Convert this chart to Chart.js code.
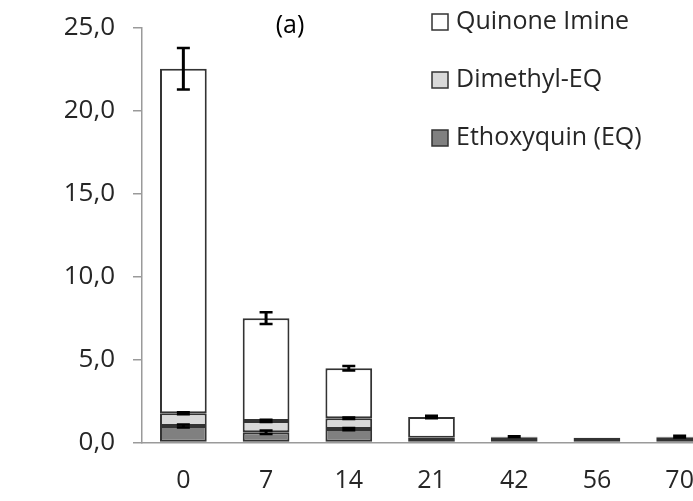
<!DOCTYPE html>
<html>
<head>
<meta charset="utf-8">
<script src="https://cdn.jsdelivr.net/npm/chart.js@4/dist/chart.umd.min.js"></script>
<style>
  html, body { margin: 0; padding: 0; background: #fff; overflow: hidden; }
  #wrap { width: 740px; height: 501px; }
</style>
</head>
<body>
<div id="wrap"><canvas id="c" width="740" height="501"></canvas></div>
<script>
// ---- data ----
const categories = ['0', '7', '14', '21', '42', '56', '70'];
const seriesNames = ['Ethoxyquin (EQ)', 'Dimethyl-EQ', 'Quinone Imine'];
const ethoxyquin = [1.00, 0.62, 0.81, null, null, null, null];
const dimethylEQ = [0.76, 0.68, 0.65, 0.29, 0.29, 0.29, 0.29];
const quinoneImine = [20.78, 6.20, 3.02, 1.25, 0.06, null, 0.06];
const ethoxyquinErr = [0.09, 0.10, 0.07, null, null, null, null];
const dimethylErr = [0.06, 0.07, 0.05, null, null, null, null];
const quinoneErr = [1.25, 0.36, 0.13, 0.08, 0.02, null, 0.05];
const yTicks = [0, 5, 10, 15, 20, 25];
const panelLabel = '(a)';

const FONT = '"Open Sans", "DejaVu Sans", sans-serif';
const TEXT = '#262626';
const AXIS = '#9a9a9a';
const EDGE = '#333333';
const fills = ['#808080', '#d9d9d9', '#ffffff'];
const errs = [ethoxyquinErr, dimethylErr, quinoneErr];

const errorBars = {
  id: 'errorBars',
  afterDatasetsDraw(chart) {
    const ctx = chart.ctx;
    const y = chart.scales.y;
    ctx.save();
    ctx.strokeStyle = '#000';
    ctx.lineCap = 'butt';
    chart.data.datasets.forEach((ds, d) => {
      const meta = chart.getDatasetMeta(d);
      const e = errs[d];
      ds.data.forEach((v, i) => {
        if (e[i] == null || v == null) return;
        let top = 0;
        for (let k = 0; k <= d; k++) top += (chart.data.datasets[k].data[i] || 0);
        const x = meta.data[i].x;
        const y1 = y.getPixelForValue(top + e[i]);
        const y2 = y.getPixelForValue(top - e[i]);
        ctx.lineWidth = 3;
        ctx.beginPath(); ctx.moveTo(x, y1); ctx.lineTo(x, y2); ctx.stroke();
        ctx.lineWidth = 2.5;
        ctx.beginPath();
        ctx.moveTo(x - 6.5, y1); ctx.lineTo(x + 6.5, y1);
        ctx.moveTo(x - 6.5, y2); ctx.lineTo(x + 6.5, y2);
        ctx.stroke();
      });
    });
    ctx.restore();
  }
};

const customLegend = {
  id: 'customLegend',
  afterDraw(chart) {
    const ctx = chart.ctx;
    ctx.save();
    const ds = chart.data.datasets.slice().reverse();
    ds.forEach((d, j) => {
      const cy = 22 + j * 58;
      ctx.fillStyle = d.backgroundColor;
      ctx.fillRect(432, cy - 8, 16, 16);
      ctx.strokeStyle = EDGE;
      ctx.lineWidth = 1.5;
      ctx.strokeRect(432, cy - 8, 16, 16);
      ctx.fillStyle = TEXT;
      ctx.font = '25px ' + FONT;
      ctx.textBaseline = 'middle';
      ctx.textAlign = 'left';
      ctx.fillText(d.label, 456, cy);
    });
    ctx.font = '25px ' + FONT;
    ctx.textAlign = 'center';
    ctx.textBaseline = 'middle';
    ctx.fillStyle = '#000';
    ctx.fillText(panelLabel, 290, 26);
    ctx.restore();
  }
};

new Chart(document.getElementById('c'), {
  type: 'bar',
  data: {
    labels: categories,
    datasets: [ethoxyquin, dimethylEQ, quinoneImine].map((arr, i) => ({
      label: seriesNames[i],
      data: arr,
      backgroundColor: fills[i],
      borderColor: EDGE,
      borderWidth: 2,
      borderSkipped: false,
      barPercentage: 0.565,
      categoryPercentage: 1.0
    }))
  },
  options: {
    responsive: false,
    animation: false,
    devicePixelRatio: 1,
    layout: { padding: { top: 28, right: 19, left: 0, bottom: 0 } },
    plugins: { legend: { display: false }, tooltip: { enabled: false } },
    scales: {
      x: {
        stacked: true,
        grid: { display: false, drawTicks: false },
        border: { display: true, color: AXIS, width: 1.5 },
        ticks: { color: TEXT, font: { family: FONT, size: 25 }, padding: 23, maxRotation: 0 },
        afterFit(s) { s.height = 58.5; s.paddingLeft = 0; s.paddingRight = 0; }
      },
      y: {
        stacked: true,
        min: 0,
        max: 25,
        afterBuildTicks(s) { s.ticks = yTicks.map(v => ({ value: v })); },
        grid: { display: true, drawOnChartArea: false, drawTicks: true, tickLength: 9, color: AXIS, lineWidth: 1.5 },
        border: { display: true, color: AXIS, width: 1.5 },
        ticks: {
          color: TEXT,
          font: { family: FONT, size: 26 },
          padding: 18,
          callback: v => v.toFixed(1).replace('.', ',')
        },
        afterFit(s) { s.width = 142; s.paddingTop = 0; s.paddingBottom = 0; }
      }
    }
  },
  plugins: [errorBars, customLegend]
});
</script>
</body>
</html>
